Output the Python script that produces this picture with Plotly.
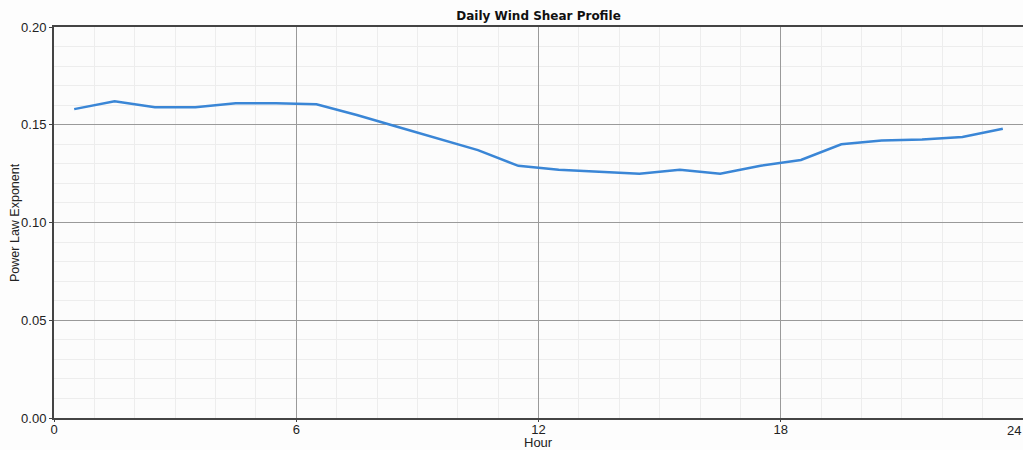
import plotly.graph_objects as go

# hourly mean power law exponent (hour mid-points)
hours = [0.5, 1.5, 2.5, 3.5, 4.5, 5.5, 6.5, 7.5, 8.5, 9.5, 10.5, 11.5,
         12.5, 13.5, 14.5, 15.5, 16.5, 17.5, 18.5, 19.5, 20.5, 21.5, 22.5, 23.5]
exponent = [0.158, 0.162, 0.159, 0.159, 0.161, 0.161, 0.1605, 0.155, 0.149, 0.143, 0.137, 0.129,
            0.127, 0.126, 0.125, 0.127, 0.125, 0.129, 0.132, 0.140, 0.142, 0.1425, 0.1437, 0.148]

x_ticks = [0, 6, 12, 18, 24]
y_ticks = [0.0, 0.05, 0.10, 0.15, 0.20]

fig = go.Figure()

fig.add_trace(go.Scatter(
    x=hours,
    y=exponent,
    mode="lines",
    line=dict(color="#3a86d6", width=2.5),
    showlegend=False,
))

axis_font = dict(family="Liberation Sans, Arial, sans-serif", size=13, color="#222")

fig.update_xaxes(
    range=[0, 24],
    tickmode="array",
    tickvals=x_ticks,
    ticktext=[str(v) for v in x_ticks],
    tickfont=axis_font,
    ticks="outside",
    ticklen=2,
    tickcolor="#444",
    ticklabelstandoff=-4,
    showgrid=True,
    gridcolor="#9a9a9a",
    gridwidth=1,
    minor=dict(dtick=1, showgrid=True, gridcolor="#ededed", gridwidth=1),
    showline=True,
    linecolor="#444",
    linewidth=2,
    mirror=True,
    zeroline=False,
    automargin=False,
)

fig.update_yaxes(
    range=[0, 0.20],
    tickmode="array",
    tickvals=y_ticks,
    ticktext=[f"{v:.2f}" for v in y_ticks],
    tickfont=axis_font,
    ticks="outside",
    ticklen=3,
    tickcolor="#444",
    showgrid=True,
    gridcolor="#9a9a9a",
    gridwidth=1,
    minor=dict(dtick=0.01, showgrid=True, gridcolor="#ededed", gridwidth=1),
    showline=True,
    linecolor="#444",
    linewidth=2,
    zeroline=False,
    automargin=False,
)

# plotly drops the last tick label at the window edge, so put it back by hand
fig.add_annotation(
    text=str(x_ticks[-1]), xref="paper", yref="paper", x=1.0, y=-0.031,
    xanchor="right", yanchor="middle", showarrow=False, font=axis_font,
)

# axis titles placed as annotations to sit tight against the tick labels
fig.add_annotation(
    text="Hour", xref="paper", yref="paper", x=0.5, y=-0.062,
    xanchor="center", yanchor="middle", showarrow=False, font=axis_font,
)
fig.add_annotation(
    text="Power Law Exponent", xref="paper", yref="paper", x=-0.0408, y=0.5,
    xanchor="center", yanchor="middle", textangle=-90, showarrow=False,
    font=dict(family="Liberation Sans, Arial, sans-serif", size=12.5, color="#222"),
)

fig.update_layout(
    width=1023,
    height=450,
    margin=dict(l=54, r=0, t=27, b=32),
    paper_bgcolor="#fdfdfd",
    plot_bgcolor="#fcfcfc",
    title=dict(
        text="<b>Daily Wind Shear Profile</b>",
        font=dict(family="DejaVu Sans, Verdana, sans-serif", size=12, color="#111"),
        xref="paper",
        x=0.5,
        xanchor="center",
        y=0.9644,
        yanchor="middle",
        automargin=False,
    ),
)

# drop the default body margin so the figure fills the window exactly
fig.write_html(
    "out.html",
    config={"displayModeBar": False},
    post_script="document.body.style.margin='0';",
)
